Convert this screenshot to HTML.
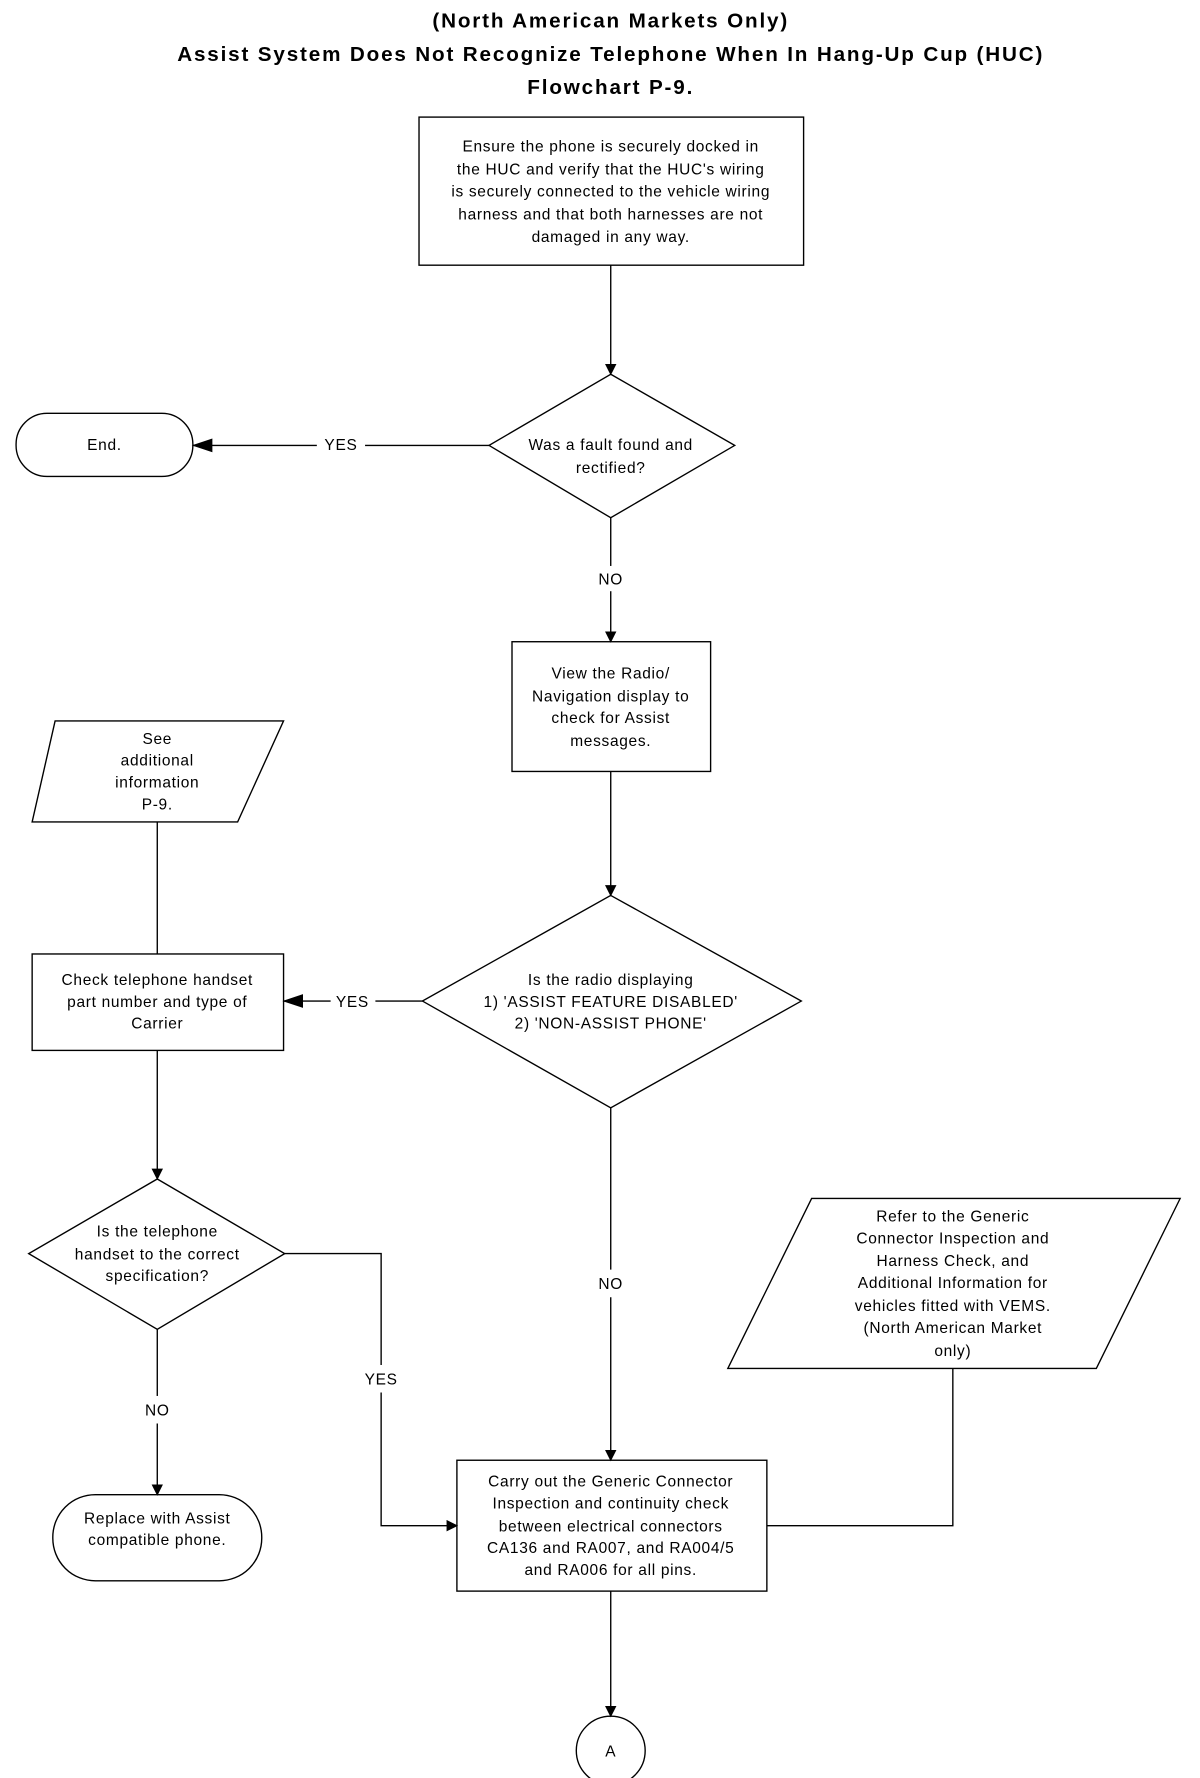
<!DOCTYPE html>
<html><head><meta charset="utf-8"><style>
html,body{margin:0;padding:0;background:#fff;}
svg{display:block}
text{font-family:"Liberation Sans",Arial,sans-serif;font-size:13.5px;fill:#000;text-anchor:middle;letter-spacing:0.6px}
.t{font-size:18px;font-weight:bold;letter-spacing:1.6px}
</style></head><body>
<svg width="1200" height="1778" viewBox="0 0 1045.3 1548.8" preserveAspectRatio="none" xmlns="http://www.w3.org/2000/svg">
<defs><marker id="a" markerWidth="10" markerHeight="10" refX="9" refY="5" orient="auto" markerUnits="userSpaceOnUse"><path d="M0,0 L10,5 L0,10 z" fill="#000"/></marker>
<marker id="b" markerWidth="18" markerHeight="12" refX="17" refY="6" orient="auto" markerUnits="userSpaceOnUse"><path d="M0,0 L18,6 L0,12 z" fill="#000"/></marker></defs>
<text class="t" x="532" y="24">(North American Markets Only)</text>
<text class="t" x="532" y="53">Assist System Does Not Recognize Telephone When In Hang-Up Cup (HUC)</text>
<text class="t" x="532" y="82">Flowchart P-9.</text>
<g fill="none" stroke="#000" stroke-width="1.2">
<rect x="365" y="102" width="335" height="129"/>
<polygon points="532,326 640,388 532,451 426,388"/>
<rect x="14" y="360" width="154" height="55" rx="27"/>
<rect x="446" y="559" width="173" height="113"/>
<polygon points="532,780 698,872 532,965 368,872"/>
<rect x="28" y="831" width="219" height="84"/>
<polygon points="48,628 247,628 207,716 28,716"/>
<polygon points="137,1027 248,1092 137,1158 25,1092"/>
<rect x="46" y="1302" width="182" height="75" rx="37"/>
<rect x="398" y="1272" width="270" height="114"/>
<polygon points="707,1044 1028,1044 955,1192 634,1192"/>
<circle cx="532" cy="1525" r="30"/>
<line x1="532" y1="231" x2="532" y2="326" marker-end="url(#a)"/>
<line x1="426" y1="388" x2="318" y2="388"/><line x1="276" y1="388" x2="168" y2="388" marker-end="url(#b)"/>
<line x1="532" y1="451" x2="532" y2="493"/><line x1="532" y1="515" x2="532" y2="559" marker-end="url(#a)"/>
<line x1="532" y1="672" x2="532" y2="780" marker-end="url(#a)"/>
<line x1="368" y1="872" x2="327" y2="872"/><line x1="288" y1="872" x2="247" y2="872" marker-end="url(#b)"/>
<line x1="137" y1="716" x2="137" y2="831"/>
<line x1="137" y1="915" x2="137" y2="1027" marker-end="url(#a)"/>
<line x1="137" y1="1158" x2="137" y2="1216"/><line x1="137" y1="1240" x2="137" y2="1302" marker-end="url(#a)"/>
<polyline points="248,1092 332,1092 332,1189"/><polyline points="332,1213 332,1329 398,1329" marker-end="url(#a)"/>
<line x1="532" y1="965" x2="532" y2="1106"/><line x1="532" y1="1130" x2="532" y2="1272" marker-end="url(#a)"/>
<polyline points="830,1192 830,1329 668,1329"/>
<line x1="532" y1="1386" x2="532" y2="1495" marker-end="url(#a)"/>
</g>
<text x="532" y="132">Ensure the phone is securely docked in</text>
<text x="532" y="152">the HUC and verify that the HUC's wiring</text>
<text x="532" y="171">is securely connected to the vehicle wiring</text>
<text x="532" y="191">harness and that both harnesses are not</text>
<text x="532" y="211">damaged in any way.</text>
<text x="91" y="392">End.</text>
<text x="297" y="392">YES</text>
<text x="532" y="392">Was a fault found and</text>
<text x="532" y="412">rectified?</text>
<text x="532" y="509">NO</text>
<text x="532" y="591">View the Radio/</text>
<text x="532" y="611">Navigation display to</text>
<text x="532" y="630">check for Assist</text>
<text x="532" y="650">messages.</text>
<text x="137" y="648">See</text>
<text x="137" y="667">additional</text>
<text x="137" y="686">information</text>
<text x="137" y="705">P-9.</text>
<text x="532" y="858">Is the radio displaying</text>
<text x="532" y="877">1) 'ASSIST FEATURE DISABLED'</text>
<text x="532" y="896">2) 'NON-ASSIST PHONE'</text>
<text x="307" y="877">YES</text>
<text x="137" y="858">Check telephone handset</text>
<text x="137" y="877">part number and  type of</text>
<text x="137" y="896">Carrier</text>
<text x="137" y="1077">Is the telephone</text>
<text x="137" y="1097">handset to the correct</text>
<text x="137" y="1116">specification?</text>
<text x="137" y="1233">NO</text>
<text x="332" y="1206">YES</text>
<text x="532" y="1123">NO</text>
<text x="137" y="1327">Replace with Assist</text>
<text x="137" y="1346">compatible phone.</text>
<text x="830" y="1064">Refer to the Generic</text>
<text x="830" y="1083">Connector Inspection and</text>
<text x="830" y="1103">Harness Check, and</text>
<text x="830" y="1122">Additional Information for</text>
<text x="830" y="1142">vehicles fitted with VEMS.</text>
<text x="830" y="1161">(North American Market</text>
<text x="830" y="1181">only)</text>
<text x="532" y="1295">Carry out the Generic Connector</text>
<text x="532" y="1314">Inspection and continuity check</text>
<text x="532" y="1334">between electrical connectors</text>
<text x="532" y="1353">CA136 and RA007, and RA004/5</text>
<text x="532" y="1372">and RA006 for all pins.</text>
<text x="532" y="1530">A</text>
</svg>
</body></html>
